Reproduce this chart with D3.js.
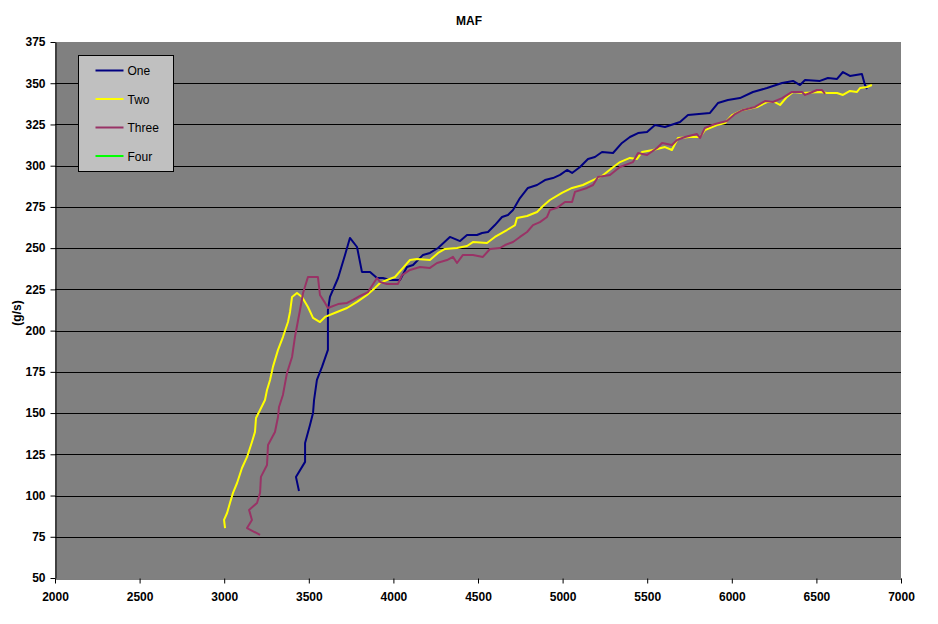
<!DOCTYPE html>
<html>
<head>
<meta charset="utf-8">
<script src="https://cdn.jsdelivr.net/npm/d3@7"></script>
<style>
  body { margin: 0; background: #fff; }
  svg { display: block; font-family: "Liberation Sans", Arial, sans-serif; }
</style>
</head>
<body>
<div id="chart"></div>
<script>
// MAF vs rpm
const one = [[3442,102.8],[3424,111.3],[3478,120.4],[3478,131.9],[3507,142.8],[3525,150.1],[3531,157.9],[3548,170.1],[3578,178],[3613,188.3],[3613,212.5],[3625,220.4],[3673,231.9],[3714,245.9],[3743,256.2],[3785,250.7],[3814,235.6],[3862,235.6],[3903,231.9],[3938,231.9],[3980,230.7],[4039,230.7],[4080,238.6],[4116,239.8],[4175,245.9],[4216,247.1],[4264,250.1],[4334,256.8],[4394,254.3],[4435,258],[4494,258],[4524,259.2],[4559,259.8],[4600,264],[4642,268.9],[4677,270.1],[4707,273.1],[4748,280.4],[4795,286.5],[4849,288.3],[4896,291.3],[4943,292.5],[4985,294.4],[5026,297.4],[5056,295.6],[5103,299.2],[5150,304.1],[5191,305.3],[5233,308.3],[5298,307.7],[5351,313.8],[5398,317.4],[5446,319.8],[5499,320.4],[5546,324.7],[5605,323.5],[5694,326.5],[5741,330.7],[5871,332],[5918,338],[5977,339.8],[6048,341],[6125,344.7],[6208,347.1],[6297,350.1],[6362,351.4],[6403,348.9],[6433,352],[6521,351.4],[6568,353.2],[6622,352.6],[6657,356.8],[6698,354.4],[6769,355.6],[6787,348.9],[6799,346.5]]

const two = [[3005,80.3],[2999,85.2],[3017,89.4],[3034,95.5],[3052,101.6],[3076,107.6],[3105,116.7],[3135,123.4],[3164,132.5],[3182,138.6],[3188,147],[3212,151.9],[3241,157.9],[3253,164],[3271,170.1],[3288,178],[3318,188.3],[3347,196.1],[3377,205.2],[3389,211.3],[3401,220.4],[3430,222.8],[3460,220.4],[3495,214.3],[3525,207.7],[3566,205.2],[3596,208.3],[3667,211.3],[3726,213.7],[3785,217.4],[3844,221.6],[3891,225.9],[3921,228.9],[3962,230.7],[4009,232.5],[4057,238],[4098,242.8],[4139,243.4],[4216,242.8],[4264,247.1],[4305,249.5],[4376,250.1],[4435,251.3],[4470,253.7],[4553,253.1],[4600,256.8],[4671,261],[4719,264],[4730,268.3],[4790,269.5],[4849,271.9],[4884,275.6],[4925,279.2],[4996,283.5],[5056,286.5],[5120,288.3],[5180,291.3],[5233,293.8],[5292,298.6],[5339,302.2],[5398,304.7],[5440,304.1],[5469,308.3],[5534,309.5],[5605,311.3],[5646,309.5],[5682,316.8],[5753,317.4],[5812,317.4],[5841,321.6],[5912,324.7],[5960,325.9],[6001,330.7],[6066,333.8],[6149,335.6],[6208,338.6],[6255,338.6],[6285,336.8],[6326,341.7],[6362,344.7],[6421,344.1],[6521,344.7],[6562,344.1],[6622,344.1],[6657,342.9],[6698,345.3],[6740,344.7],[6758,347.1],[6799,347.7],[6828,348.9]]

const three = [[3212,76.1],[3135,80.3],[3164,85.2],[3147,91.3],[3194,95.5],[3212,101.6],[3217,111.3],[3253,118.5],[3259,130.7],[3300,138.5],[3318,147.6],[3324,153.7],[3347,161],[3371,174.3],[3401,184],[3418,196.1],[3448,212.5],[3466,222.8],[3495,232.5],[3554,232.5],[3566,221.6],[3596,216.8],[3613,213.7],[3673,216.1],[3726,216.8],[3761,218.6],[3803,221],[3850,223.4],[3903,231.9],[3921,229.5],[3962,228.3],[4027,228.3],[4051,233.7],[4098,236.8],[4157,238.6],[4216,238],[4258,241],[4317,242.8],[4352,244.7],[4376,241],[4411,245.9],[4470,245.9],[4529,244.7],[4571,249.5],[4630,250.1],[4660,251.9],[4707,253.7],[4748,256.8],[4790,259.8],[4825,264],[4866,265.8],[4908,268.9],[4925,273.1],[4967,274.4],[5014,278],[5056,278],[5073,284.1],[5144,286.5],[5180,288.3],[5209,293.2],[5280,294.4],[5339,299.2],[5416,302.2],[5446,307.7],[5499,306.5],[5558,310.7],[5588,313.8],[5646,312.6],[5676,315.6],[5723,317.4],[5794,319.2],[5812,316.8],[5841,322.9],[5901,325.3],[5971,327.1],[6019,331.3],[6066,333.8],[6137,335.6],[6196,339.2],[6243,338.6],[6297,341],[6356,344.7],[6415,344.7],[6433,342.9],[6462,344.1],[6503,345.9],[6533,345.9],[6551,343.5]]

const four = []  // in the legend, nothing plotted

const seriesNames = ["One", "Two", "Three", "Four"]
const seriesColors = ["#000080", "#ffff00", "#993366", "#00ff00"]
const xTicks = [2000, 2500, 3000, 3500, 4000, 4500, 5000, 5500, 6000, 6500, 7000]
const yTicks = [50, 75, 100, 125, 150, 175, 200, 225, 250, 275, 300, 325, 350, 375]

const width = 938, height = 624
const margin = {top: 42, right: 37, bottom: 46, left: 55}

const svg = d3.select("#chart").append("svg")
    .attr("width", width)
    .attr("height", height)

const x = d3.scaleLinear()
    .domain([2000, 7000])
    .range([margin.left, width - margin.right])

const y = d3.scaleLinear()
    .domain([50, 375])
    .range([height - margin.bottom, margin.top])

// plot area
svg.append("rect")
    .attr("x", x(2000))
    .attr("y", y(375))
    .attr("width", x(7000) - x(2000))
    .attr("height", y(50) - y(375))
    .attr("fill", "#808080")

// gridlines
svg.append("g")
    .selectAll("line")
    .data(yTicks.filter(d => d > 50 && d < 375))
    .join("line")
      .attr("x1", x(2000))
      .attr("x2", x(7000))
      .attr("y1", d => Math.round(y(d)) + 0.5)
      .attr("y2", d => Math.round(y(d)) + 0.5)
      .attr("stroke", "#000")
      .attr("stroke-width", 1)

const xAxis = g => g
    .attr("transform", `translate(0,${Math.round(y(50)) + 0.5})`)
    .call(d3.axisBottom(x).tickValues(xTicks).tickFormat(d3.format("d")).tickSize(5).tickPadding(9).tickSizeOuter(0))
    .call(g => g.selectAll("text").attr("font-size", 12).attr("font-weight", "bold").attr("fill", "#000"))

const yAxis = g => g
    .attr("transform", `translate(${Math.round(x(2000)) + 0.5},0)`)
    .call(d3.axisLeft(y).tickValues(yTicks).tickFormat(d3.format("d")).tickSize(5).tickPadding(5).tickSizeOuter(0))
    .call(g => g.selectAll("text").attr("font-size", 12).attr("font-weight", "bold").attr("fill", "#000"))

svg.append("g").call(xAxis)
svg.append("g").call(yAxis)

// series lines
const line = d3.line()
    .x(d => x(d[0]))
    .y(d => y(d[1]))

const allSeries = [one, two, three, four]

svg.append("g")
    .selectAll("path")
    .data(allSeries)
    .join("path")
      .attr("fill", "none")
      .attr("stroke", (d, i) => seriesColors[i])
      .attr("stroke-width", 2)
      .attr("stroke-linejoin", "round")
      .attr("d", d => d.length ? line(d) : null)

// title + y label
svg.append("text")
    .attr("x", 469)
    .attr("y", 25)
    .attr("text-anchor", "middle")
    .attr("font-size", 12)
    .attr("font-weight", "bold")
    .text("MAF")

svg.append("text")
    .attr("transform", "translate(21,313) rotate(-90)")
    .attr("text-anchor", "middle")
    .attr("font-size", 12)
    .attr("font-weight", "bold")
    .text("(g/s)")

// legend
const legend = svg.append("g").attr("transform", "translate(78.5,55.5)")

legend.append("rect")
    .attr("width", 95)
    .attr("height", 116)
    .attr("fill", "#c0c0c0")
    .attr("stroke", "#000")

const item = legend.selectAll("g")
    .data(seriesNames)
    .join("g")
      .attr("transform", (d, i) => `translate(0,${15 + i * 28.5})`)

item.append("line")
    .attr("x1", 17)
    .attr("x2", 45)
    .attr("stroke", (d, i) => seriesColors[i])
    .attr("stroke-width", 2)

item.append("text")
    .attr("x", 49)
    .attr("y", 4.5)
    .attr("font-size", 12)
    .attr("fill", "#000")
    .text(d => d)
</script>
</body>
</html>
